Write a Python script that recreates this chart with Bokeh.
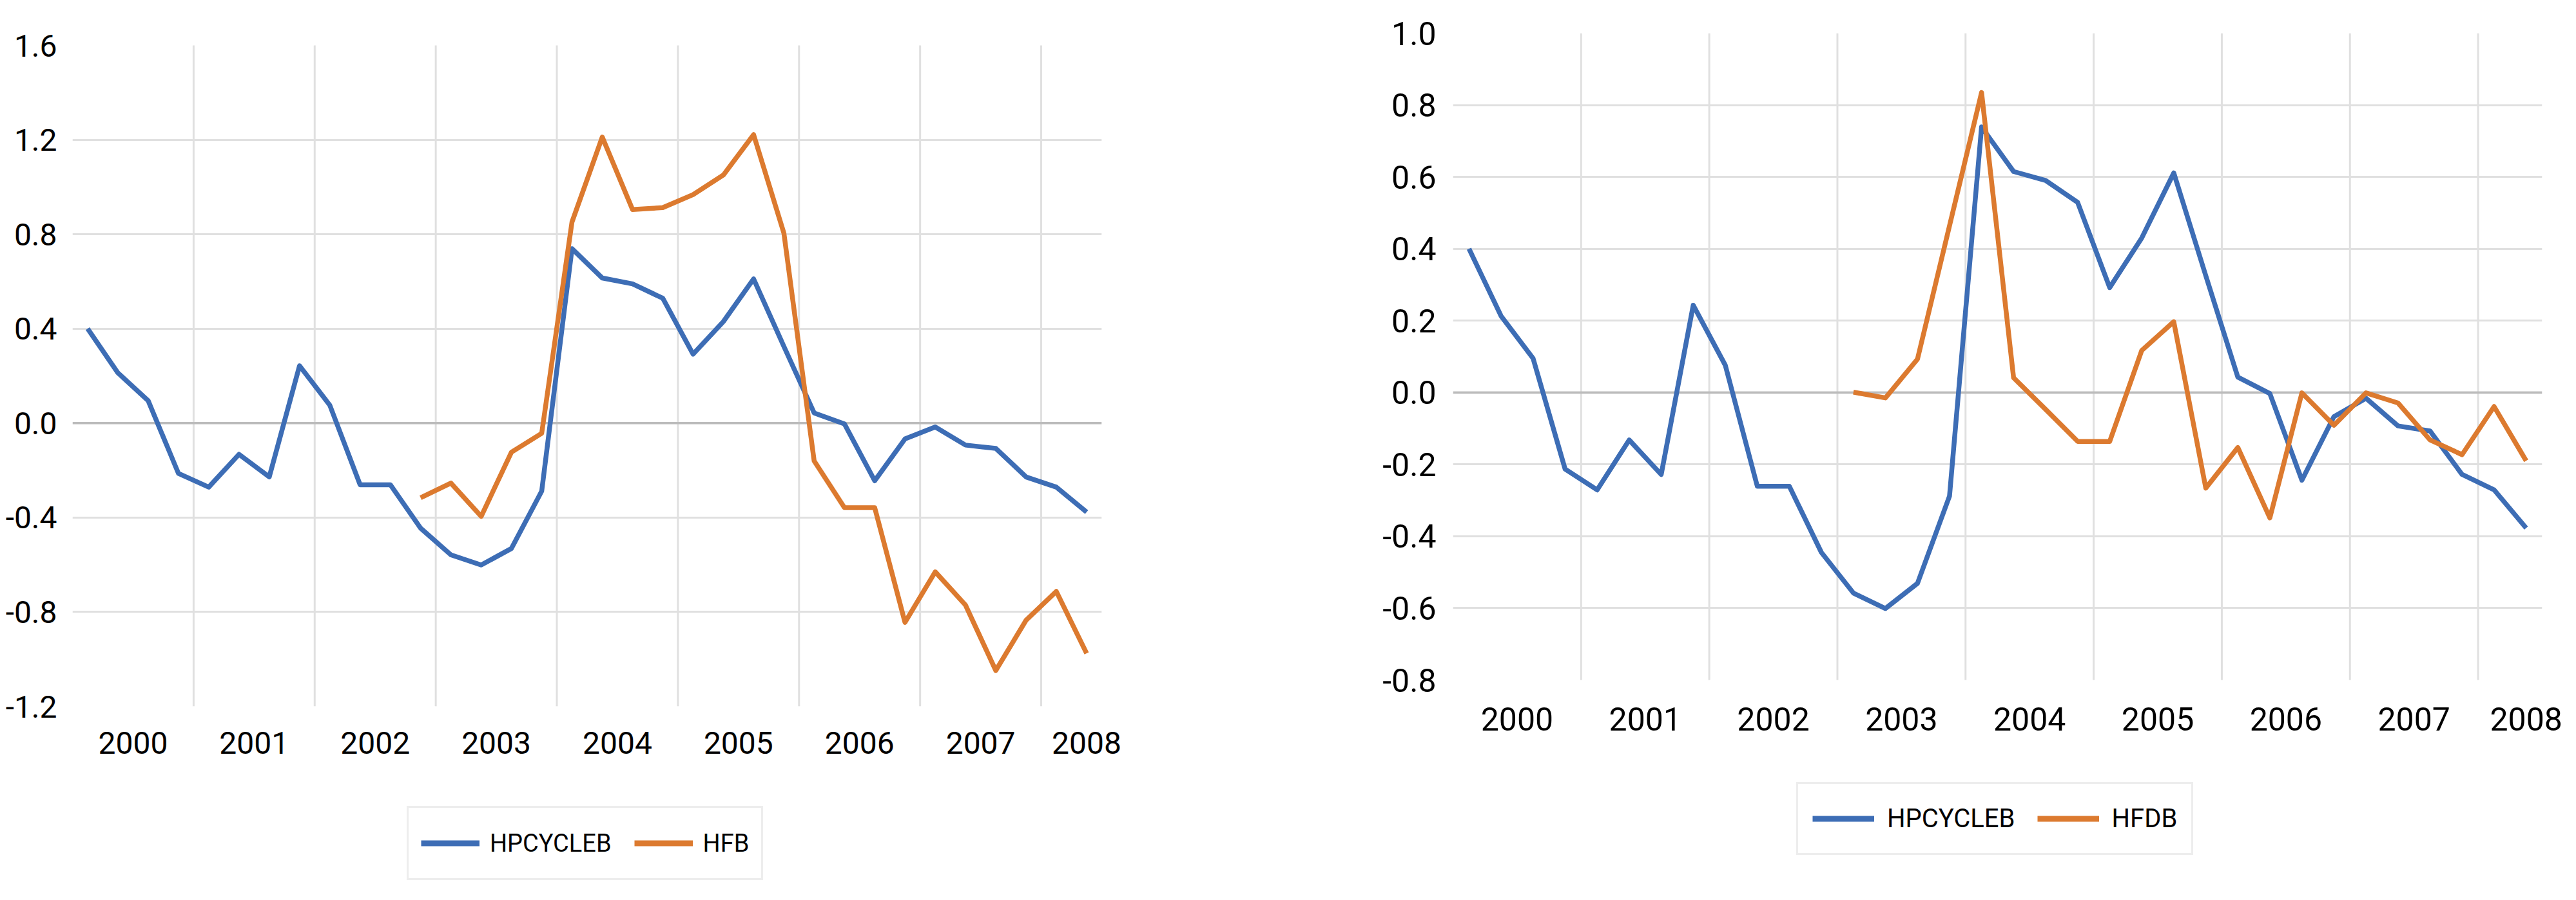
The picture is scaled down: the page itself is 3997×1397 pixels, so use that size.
from bokeh.plotting import figure
from bokeh.layouts import row, column
from bokeh.models import (Range1d, FixedTicker, PrintfTickFormatter, Span, Legend,
                          LegendItem, ColumnDataSource)
from bokeh.embed import file_html
from bokeh.resources import INLINE

# ---------------- data (quarterly, 2000Q1 .. 2008Q2) ----------------
years = [2000, 2001, 2002, 2003, 2004, 2005, 2006, 2007, 2008]
year_labels = ["2000", "2001", "2002", "2003", "2004", "2005", "2006", "2007", "2008"]
quarters_per_year = [4, 4, 4, 4, 4, 4, 4, 4, 2]

hpcycleb = [0.400, 0.213, 0.095, -0.213, -0.271, -0.132, -0.228, 0.243,
            0.076, -0.261, -0.261, -0.445, -0.558, -0.601, -0.531, -0.288,
            0.739, 0.615, 0.590, 0.529, 0.292, 0.430, 0.611, 0.325,
            0.043, -0.003, -0.244, -0.067, -0.016, -0.093, -0.107, -0.228,
            -0.271, -0.377]

hfb = [None, None, None, None, None, None, None, None,
       None, None, None, -0.316, -0.254, -0.395, -0.123, -0.043,
       0.852, 1.212, 0.905, 0.913, 0.968, 1.051, 1.222, 0.805,
       -0.160, -0.358, -0.358, -0.844, -0.630, -0.771, -1.048, -0.835,
       -0.713, -0.975]

hfdb = [None, None, None, None, None, None, None, None,
        None, None, None, None, 0.001, -0.015, 0.093, 0.464,
        0.835, 0.041, -0.047, -0.136, -0.136, 0.117, 0.197, -0.266,
        -0.153, -0.349, -0.001, -0.091, -0.001, -0.029, -0.132, -0.173,
        -0.039, -0.190]

left_ticks = [-1.2, -0.8, -0.4, 0.0, 0.4, 0.8, 1.2, 1.6]
right_ticks = [-0.8, -0.6, -0.4, -0.2, 0.0, 0.2, 0.4, 0.6, 0.8, 1.0]

# ---------------- style ----------------
BLUE = "#3D6DB5"
ORANGE = "#DC7A2F"
GRID = "#e0e0e0"
ZERO = "#bcbcbc"
FONT = "Roboto"

n = len(hpcycleb)
xs = list(range(n))

bounds = []
label_pos = []
start = 0
for cnt in quarters_per_year:
    label_pos.append(min(start + 1.5, n - 1))
    start += cnt
    if start < n:
        bounds.append(start - 0.5)


def nanify(v):
    return [float("nan") if a is None else a for a in v]


def make_fig(width, height, yrange, ticks, border, ylab_px, xlab_px, ystand, xstand,
             series2):
    p = figure(width=width, height=height, output_backend="svg",
               toolbar_location=None,
               x_range=Range1d(-0.5, n - 0.5), y_range=Range1d(*yrange))
    p.min_border_left, p.min_border_right, p.min_border_top, p.min_border_bottom = border
    p.outline_line_color = None
    p.background_fill_color = "white"
    p.border_fill_color = "white"

    p.yaxis.ticker = FixedTicker(ticks=ticks)
    p.yaxis.formatter = PrintfTickFormatter(format="%.1f")
    p.xaxis.ticker = FixedTicker(ticks=label_pos)
    p.xaxis.major_label_overrides = {pos: lab for pos, lab in zip(label_pos, year_labels)}
    for ax in (p.xaxis[0], p.yaxis[0]):
        ax.axis_line_color = None
        ax.major_tick_line_color = None
        ax.minor_tick_line_color = None
        ax.major_label_text_font = FONT
        ax.major_label_text_color = "black"
    p.yaxis.major_label_text_font_size = f"{ylab_px}px"
    p.xaxis.major_label_text_font_size = f"{xlab_px}px"
    p.yaxis.major_label_standoff = ystand
    p.xaxis.major_label_standoff = xstand

    lo, hi = min(ticks), max(ticks)
    p.ygrid.ticker = FixedTicker(ticks=[t for t in ticks if t not in (lo, hi, 0.0)])
    p.ygrid.grid_line_color = GRID
    p.ygrid.grid_line_width = 3
    p.xgrid.grid_line_color = None

    p.segment(x0=bounds, x1=bounds, y0=[lo] * len(bounds), y1=[hi] * len(bounds),
              line_color=GRID, line_width=3, level="underlay")
    p.add_layout(Span(location=0, dimension="width", line_color=ZERO,
                      line_width=3.5, level="underlay"))

    src = ColumnDataSource(dict(x=xs, a=hpcycleb, b=nanify(series2)))
    p.line("x", "a", source=src, line_color=BLUE, line_width=7.5, line_join="round")
    p.line("x", "b", source=src, line_color=ORANGE, line_width=7.5, line_join="round")
    return p


def make_legend_fig(width, height, border, name2, series2, leg):
    # a strip under the chart that only carries the legend
    lf = figure(width=width, height=height, output_backend="svg",
                toolbar_location=None,
                x_range=Range1d(-0.5, n - 0.5), y_range=Range1d(50, 51))
    lf.min_border_left, lf.min_border_right = border
    lf.min_border_top = 0
    lf.min_border_bottom = 0
    lf.axis.visible = False
    lf.grid.visible = False
    lf.outline_line_color = None
    lf.background_fill_color = "white"
    lf.border_fill_color = "white"
    src = ColumnDataSource(dict(x=xs, a=hpcycleb, b=nanify(series2)))
    r1 = lf.line("x", "a", source=src, line_color=BLUE, line_width=9)
    r2 = lf.line("x", "b", source=src, line_color=ORANGE, line_width=9)
    legend = Legend(items=[LegendItem(label="HPCYCLEB", renderers=[r1]),
                           LegendItem(label=name2, renderers=[r2])],
                    orientation="horizontal", location=leg["loc"],
                    glyph_width=leg["gw"], glyph_height=leg["h"], label_height=leg["h"],
                    label_standoff=leg["st"], spacing=leg["sp"], padding=leg["pad"],
                    margin=0,
                    label_text_font=FONT, label_text_font_size=f"{leg['font']}px",
                    label_text_color="black",
                    border_line_color="#dcdcdc", border_line_width=3,
                    background_fill_color="white", background_fill_alpha=1.0)
    lf.add_layout(legend, "center")
    return lf


MAIN_H = 1186
LEG_H = 194

# common frame: screen y 59 .. 1104 for both charts
p1 = make_fig(2000, MAIN_H, (-1.2, 1.652), left_ticks, (112, 291, 51, 90),
              48, 48, 18, 33, hfb)
p2 = make_fig(1981, MAIN_H, (-0.8735, 1.0), right_ticks, (254, 37, 51, 90),
              50, 50, 20, -5, hfdb)

l1 = make_legend_fig(2000, LEG_H, (112, 291), "HFB", hfb,
                     dict(loc=(519, 14), gw=91, h=71, st=16, sp=35, pad=19, font=38))
l2 = make_legend_fig(1981, LEG_H, (254, 37), "HFDB", hfdb,
                     dict(loc=(533, 53), gw=96, h=63, st=20, sp=34, pad=22, font=40))

layout = row(column(p1, l1), column(p2, l2))
open("out.html", "w").write(file_html(layout, INLINE))
